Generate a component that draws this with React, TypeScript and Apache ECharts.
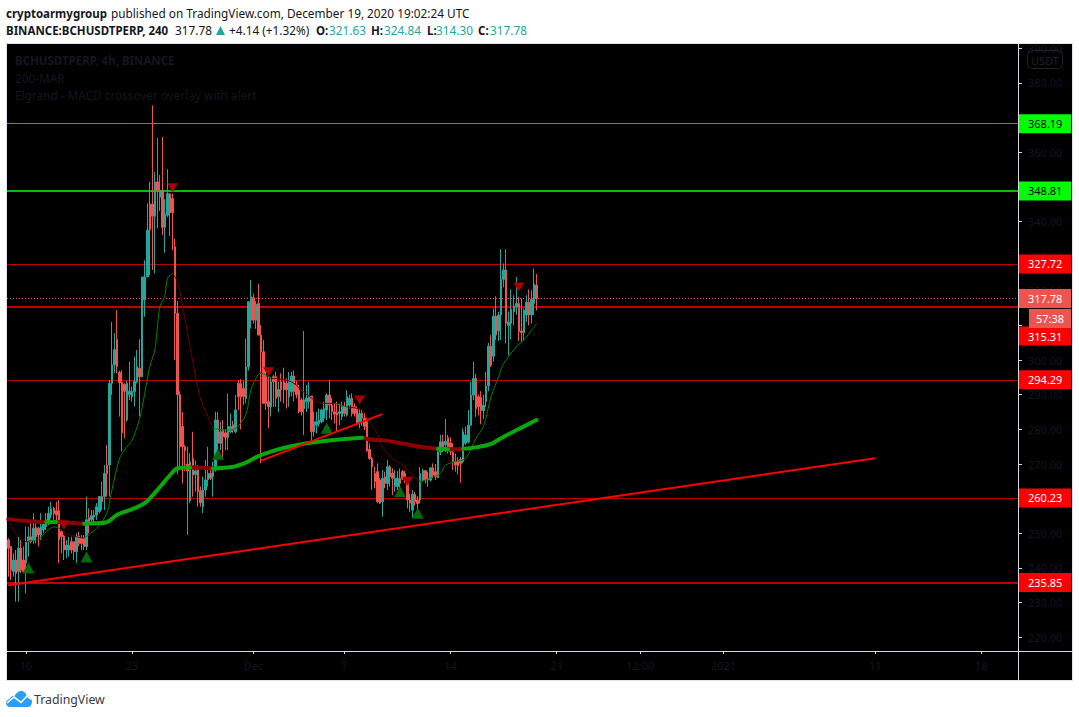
import React, { useEffect, useRef } from "react";
import * as echarts from "echarts";

// [open, close, low, high]
const candlesNovA = [
  [248.1,245.7,237.5,248.6],[246.2,239.4,236.5,246.2],[239,242.3,237.5,244.2],[242.3,238.5,230.3,245.2],
  [239,245.7,230.3,249],[245.7,239.4,238.5,248.1],[242.3,239,238.5,246.2],[241.4,247.6,232.7,251.9],
  [247.6,249,243.3,251.9],[249,247.6,247.1,252.9],[248,251.5,247,255.8],[251.7,249,247.1,253.9],
  [251.5,249.5,246.2,251.9],[249.5,251.9,248.1,255.8],[251,252.9,250,253.4],[251.9,253.9,251,255.8],
  [252.9,255.8,252.4,257.7],[255.3,257.2,254.3,259.1],[257.2,255.8,253.9,257.7],[256.5,255.3,252.9,259.1],
  [256.5,248.1,241.4,259.6],[250.5,249,244.2,251],[249.2,245.2,242.3,249.5],[245.2,246.6,242.8,248.1],
  [245.2,246.6,243.3,249],[247.6,245.2,244.2,249],[247.6,244.7,242.3,247.6],[244.7,249.2,241.4,250],
  [249.2,247.1,246.2,250.5],[248.6,247.1,245.2,249.5],[248.6,246.2,245.2,249.5],[246.2,253.9,245.2,260.6],
  [254.5,253.4,250,257.2],[253.9,255.1,252.9,256.7],[254.8,255.3,252.4,256.7],[255.3,257.7,253.9,258.7],
  [256.3,260.6,255.8,260.6],[260.6,259.1,256.7,264.9],[260.6,267.3,256.7,269.7],[269.7,267.3,260.6,275.5],
  [269.7,293.3,260.6,294.2],[293.3,298.6,289.9,311],[298.6,303,296.2,307.8],[306,298.1,296.2,314.4],
  [296.4,293.5,283.7,296.9],[293.5,279,273.6,297.1],[293,291,277.4,293.3],[282.7,293.3,282.2,294],
  [290,291,288.5,299.5],[289.4,290.9,288,292.3],[290.9,293.8,286.6,301],[293.8,298.1,293.3,302.9],
];
const candlesNovB = [
  [297.6,295.2,283.7,306],[295.2,324,295,324],[317.3,324,312.5,328.8],[324,337.5,325,345.2],
  [345,337.7,324.5,351.4],[345,341.5,326,373.5],[341.5,351.4,325,354.3],[351.4,349,338,364.1],
  [347,349,343,353.4],[349,338.3,336,364.4],[338.3,342.1,331,346.4],[341.8,348,341.3,355.1],
  [348,342.5,335.8,348],[346.6,342.5,331.7,348],[332.7,313.5,300,335],[313.5,290,267,317],
  [290,275,269,291],[280.8,275,264.4,285],[275,273.8,268,275.5],[270,268,249.5,275],
  [259.4,270.7,258.7,273.1],[271.6,266.8,260.6,279.3],[267,268,262,271],[268.3,262,257.7,269.7],
  [262.3,258.8,257.7,263.5],[257.7,262.5,255.8,266.4],[262.5,265.4,260.6,271.2],[265.4,267.3,263.5,275],
  [267.3,265.9,265.4,268.8],[266.4,268.8,260.6,270.7],[268.3,282.7,267.8,285.1],[282.7,276,274,285],
  [276,279.3,274,282.2],[279.9,277.9,271.5,282.7],[279,277.7,274,280],[277.7,280.8,274,290.4],
  [279.3,280.8,278.9,284.6],[281.3,279.8,279,282.5],[279.3,285.6,278.9,289.9],[293.3,289.4,285.6,294.2],
  [293.3,289.4,280,294.5],[291.8,289.4,287,294],[288.9,298,287.5,306.2],[298,316.8,297,317],
  [311.5,318.3,309.1,323.1],[318,311.5,310.6,319.2],[311.5,316.1,309,317],[316.3,307.2,307.2,322],
  [307.2,302.4,270.2,310.1],[302.4,287.5,287.5,305.8],[295.2,287.5,285.6,298],[288,286.5,280.3,295.2],
];
const candlesDecA = [
  [286.5,293.7,283.7,295.2],[295.2,293.7,286.5,295.7],[295.2,289,286.5,296.6],[289.4,291.5,285,293.7],
  [293.7,291.5,288,296.2],[293.7,291.5,287.5,297.8],[293.3,291.4,286,294.7],[289.4,294.2,286.5,296.6],
  [290.9,295.4,289.5,296.6],[295.4,290.9,288,297],[292.8,290,289,294],[291.3,285.1,284.6,292.8],
  [288.5,285.1,284,289],[286,288.5,278.4,308.4],[288,289,285,292.8],[288,289.6,286,293.7],
  [289.6,279.3,276.9,289.6],[279.3,282.2,277.9,285.1],[281.3,282.2,278.8,285],[281.7,282.7,280.8,286],
  [282.2,285.6,281.7,286],[283.2,286,282.2,288],[285.6,289.9,282.7,290.4],[289.9,287,283.2,294.2],
  [287,285.1,282.7,289],[285.1,284.4,281.7,287.5],[284.8,284.1,279.3,288],[284.6,285.1,281.2,287.5],
  [283.7,286.6,282.7,288],[286.6,284.6,283.7,288],[284.1,289.4,283.7,291.3],[287,288.9,286,290],
  [289,284.6,283.7,290.4],[286.6,284.6,283.7,287.5],[286,281.7,281.2,286.6],[282,284.6,280.3,286],
  [284.6,283.2,281,285.6],[283.2,280.8,279.8,285],[282.2,273.8,273.5,283.5],[274.2,271.6,271.2,276],
  [271.6,269.2,262.5,272],[267.3,264.9,263,269.2],[267.8,259.1,258.7,270.2],[265.4,258.7,258.5,266],
  [259.1,265.9,254.8,268.3],[266.3,264.4,263,267.8],[264.4,269.2,262.5,271.2],[269.2,266.3,263.5,269.7],
  [267.3,265.9,261,268.8],[263.5,265.9,262,268.3],[263.5,265.9,262.5,268],[265.9,264.4,263,268.7],
  [267.8,265.9,265.4,268.3],[267.3,265.8,264.5,268],
];
const candlesDecB = [
  [265.4,259.6,257.2,266],[259.6,258.7,256.2,261.5],[256.7,261.3,254.5,262.5],[261.3,259.1,258,262],
  [259.6,258.6,257,260.8],[259.6,267.3,258.6,269.2],[265.4,268.1,264.9,268.7],[268.1,265.4,264.4,268.3],
  [265.9,265.4,263.5,267.8],[265.4,268.9,264.9,269],[268.9,266.8,265.9,270.2],[267.8,266.3,265.4,270],
  [266.1,273.5,265.9,274],[273.5,276.4,272.6,278.4],[276.4,275,273.5,278.4],[275.6,276.6,273.5,283],
  [277.6,275,273,278.4],[276.1,273.5,272.6,277.7],[273.5,270.7,268.3,276],[270.7,269.7,267.8,273],
  [271,269.5,267,272],[271.3,270.2,264.6,272],[270.7,279.3,270.2,280.3],[276,278.4,275.5,280.8],
  [276.4,281.2,275.9,285.6],[281.2,289.9,281,293.8],[289.9,294.7,288.5,299.5],[294.7,286,283.6,296],
  [289.4,286.5,284,290],[289.2,285.4,281.5,291],[285.4,287,283,290],[288,292.5,286.5,296.6],
  [292.6,304,291,305],[304,298.5,298,307.2],[301.1,312.7,299.5,314.9],[312.7,307.2,305.8,318.4],
  [308.4,313,305.5,313.9],[313,323.3,305.8,332],[323.3,326,321,327.9],[326,310.6,304.8,332],
  [310,311,301.4,314],[310.6,314.6,306,320.4],[313.9,315.6,310,318.7],[315.4,316.3,313,324],
  [316.3,308.2,305.5,318.3],[308.4,307.9,305.3,317.8],[307.9,314.4,305.8,314.9],[313,316.7,311,318.7],
  [316.7,313,310,320.4],[313,317.5,310.5,320.2],[316.3,321.9,313,326.4],[321.63,317.78,314.3,324.84],
];

// [bar index, price] readings of the two moving averages, by colour run
const fastRedRuns = [
  [[0,254.3],[2,251],[5,248.6],[7,247.6],[9,247.9]],
  [[20,251.5],[23,250],[27,249],[30,248.6]],
  [[65,325],[67,322.6],[69,315.4],[72,303.4],[74,295.7],[76,289],[79,283.7],[81,280.3]],
  [[104,294.7],[109,294.4],[113,293.3],[116,291.3],[120,289],[124,287.5],[129,287.5]],
  [[134,286.5],[140,285.6],[142,283.2],[146,278.8],[148,275],[152,271.6],[156,269.7],[160,266.8],[163,264.9]],
];
const fastGreenRuns = [
  [[9,247.9],[12,248.3],[15,250.5],[18,251.9],[20,251.5]],
  [[30,248.6],[35,251.5],[39,255.8],[41,262.5],[44,271.6],[46,274],[49,276.9],[52,283.2],[54,290.4],[56,298.1],[58,302.9],[59,309.6],[60,315.4],[62,318.8],[63,323.6],[65,325]],
  [[81,280.3],[86,279.8],[90,280.3],[94,284.2],[96,291.4],[99,296],[100,296.2],[104,294.7]],
  [[129,287.5],[134,286.5]],
  [[163,264.9],[167,265.9],[171,267.3],[173,269.7],[177,270.7],[181,271.6],[185,277.4],[188,280.8],[191,289.4],[194,295.2],[196,299],[201,303.8],[204,305.8],[207,308.6],[209,310.4]],
];
const slowRedRuns = [
  [[0,254.1],[6,253.6],[15,253.2]],
  [[19,253.3],[30,252.8]],
  [[72,269],[75,269],[81,268.7]],
  [[140,277.6],[144,277],[148,276.9],[156,275.9],[163,275],[170,274.4]],
  [[174,274.3],[178,274.3],[180,274.4]],
];
const slowGreenRuns = [
  [[15,253.2],[19,253.3]],
  [[30,252.8],[34,252.9],[39,253.2],[43,255.3],[48,256.7],[54,258.7],[59,262.5],[64,266.8],[67,268.8],[72,269]],
  [[81,268.7],[89,269.2],[94,270.4],[99,272.3],[104,273.6],[111,275],[120,276.2],[131,277.1],[140,277.6]],
  [[170,274.4],[174,274.3]],
  [[180,274.4],[185,274.8],[191,275.8],[196,277.9],[202,280.1],[209,282.7]],
];
const trendLines = [
  [[0,235],[343,271.7]],
  [[100,271],[148,284.4]],
];
const upSignals = [[8,240],[31,243.2],[83,272.8],[126,280.3],[155,262],[162,255.8]];
const downSignals = [[22,252.4],[65,349.7],[103,296.6],[139,288.5],[158,265],[202,321.1]];

const lastPrice = 317.78;
const priceTicks = [220,230,240,250,260,270,280,290,300,310,320,330,340,350,360,370,380,390];
const dateTicks: Record<string, string> = {
  "2020-11-16 00:00": "16", "2020-11-23 00:00": "23", "2020-12-01 00:00": "Dec",
  "2020-12-07 00:00": "7", "2020-12-14 00:00": "14", "2020-12-21 00:00": "21",
  "2020-12-26 12:00": "12:00", "2021-01-01 00:00": "2021", "2021-01-11 00:00": "11", "2021-01-18 00:00": "18",
};
const BAR_COUNT = 400;

const pad = (n: number) => String(n).padStart(2, "0");
const categories: string[] = [];
for (let i = 0; i < BAR_COUNT; i++) {
  const d = new Date(Date.UTC(2020, 10, 14, 20) + i * 4 * 3600000);
  categories.push(`${d.getUTCFullYear()}-${pad(d.getUTCMonth() + 1)}-${pad(d.getUTCDate())} ${pad(d.getUTCHours())}:00`);
}
const candles = [...candlesNovA, ...candlesNovB, ...candlesDecA, ...candlesDecB];

const UI_FONT = '"Noto Sans", sans-serif';
const TEAL = "#26a69a";
const CANDLE_RED = "#ef5350";
const DIM = "#131722";

echarts.graphic.registerShape(
  "tvCloud",
  echarts.graphic.extendPath(
    "M4 16 C1.5 16 0 14 0 12 C0 10 1.5 8.5 3.5 8 C4.5 5.5 6.5 4.5 8.5 5 C10 2 12.5 0 15 0 C18 0 20 2 20.5 4.5 C23 5 26 7.5 26 11 C26 14 24 16 22 16 Z",
    {}
  )
);

function txt(text: string, x: number, y: number, fill: string, font: string, extra: any = {}, z = 50) {
  return { type: "text", z, silent: true, style: { text, x, y, fill, font, textVerticalAlign: "middle", ...extra } };
}

function runSeries(runs: number[][][], color: string, width: number, z: number) {
  return runs.map((run) => ({
    type: "line", data: run, showSymbol: false, smooth: 0.3, z, silent: true,
    lineStyle: { color, width, cap: "round" },
  }));
}

function levelLine(value: number, tagColor: string, lineColor: string, width: number, textColor: string, offsetY = 0, type: any = "solid") {
  return {
    yAxis: value,
    lineStyle: { color: lineColor, width, type, opacity: 1 },
    label: {
      show: true, position: "end", distance: 0, offset: [0, offsetY],
      formatter: value.toFixed(2), color: textColor, backgroundColor: tagColor,
      fontFamily: UI_FONT, fontSize: 11, width: 43, height: 19, lineHeight: 19,
      padding: [0, 0, 0, 10], align: "left", verticalAlign: "middle",
    },
  };
}

export default function App() {
  const ref = useRef<HTMLDivElement>(null);
  useEffect(() => {
    const chart = echarts.init(ref.current!, null, { renderer: "svg" });
    const h = `11.8px ${UI_FONT}`;
    const hb = `bold 11.5px ${UI_FONT}`;
    chart.setOption({
      animation: false,
      backgroundColor: "#ffffff",
      grid: { left: 7, right: 61, top: 44, bottom: 66, containLabel: false },
      xAxis: {
        type: "category", data: categories, boundaryGap: true,
        axisLine: { show: false },
        axisTick: {
          show: true, alignWithLabel: true, length: 3, lineStyle: { color: "#d8dbe3" },
          interval: (_: number, v: string) => v in dateTicks,
        },
        axisLabel: {
          color: DIM, fontFamily: UI_FONT, fontSize: 11, margin: 9, hideOverlap: false,
          interval: (_: number, v: string) => v in dateTicks,
          formatter: (v: string) => dateTicks[v] ?? "",
        },
        splitLine: { show: false },
      },
      yAxis: {
        type: "value", position: "right", min: 216.05, max: 391.2, scale: true,
        axisLine: { show: false },
        axisTick: { show: true, length: 4, lineStyle: { color: "#d8dbe3" }, customValues: priceTicks },
        axisLabel: {
          color: DIM, fontFamily: UI_FONT, fontSize: 11, margin: 10,
          customValues: priceTicks, formatter: (v: number) => v.toFixed(2),
        },
        splitLine: { show: false },
      },
      series: [
        {
          type: "line", data: [], z: 1, silent: true,
          markLine: {
            silent: true, symbol: "none", animation: false, z: 1,
            data: [
              levelLine(368.19, "#00ff00", "#00c800", 1, "#000000"),
              levelLine(348.81, "#00ff00", "#00ff00", 1.5, "#000000"),
              levelLine(327.72, "#ff0000", "#c00000", 1, "#ffffff"),
              levelLine(315.31, "#ff0000", "#ff0000", 1.5, "#ffffff", 29),
              levelLine(294.29, "#ff0000", "#c00000", 1, "#ffffff"),
              levelLine(260.23, "#ff0000", "#c00000", 1, "#ffffff"),
              levelLine(235.85, "#ff0000", "#ff0000", 1.5, "#ffffff"),
              levelLine(lastPrice, CANDLE_RED, CANDLE_RED, 1, "#ffffff", 0, [1, 2]),
            ],
          },
        },
        {
          type: "candlestick", data: candles, barWidth: 2, z: 2, silent: true,
          itemStyle: { color: TEAL, color0: CANDLE_RED, borderColor: TEAL, borderColor0: CANDLE_RED, borderWidth: 1 },
        },
        ...runSeries(fastRedRuns, "#6e0000", 1, 3),
        ...runSeries(fastGreenRuns, "#008000", 1, 3),
        ...runSeries(slowRedRuns, "#8c0000", 4, 4),
        ...runSeries(slowGreenRuns, "#0aa80a", 4, 4),
        ...trendLines.map((t) => ({
          type: "line", data: t, showSymbol: false, z: 5, silent: true,
          lineStyle: { color: "#ff0000", width: 2 },
        })),
        {
          type: "scatter", data: upSignals, symbol: "triangle", symbolSize: [12, 11], z: 6, silent: true,
          itemStyle: { color: "#056a0c", opacity: 1 },
        },
        {
          type: "scatter", data: downSignals, symbol: "triangle", symbolRotate: 180, symbolSize: [11, 9], z: 6, silent: true,
          itemStyle: { color: "#a80000", opacity: 1 },
        },
      ],
      graphic: [
        { type: "rect", z: -1, silent: true, shape: { x: 6.5, y: 43.5, width: 1066, height: 637 }, style: { fill: "#000000", stroke: "#e0e3eb", lineWidth: 1 } },
        { type: "line", z: 40, silent: true, shape: { x1: 1018.5, y1: 44, x2: 1018.5, y2: 680 }, style: { stroke: "#d8dbe3", lineWidth: 1 } },
        { type: "line", z: 40, silent: true, shape: { x1: 7, y1: 651.5, x2: 1072, y2: 651.5 }, style: { stroke: "#d8dbe3", lineWidth: 1 } },

        txt("cryptoarmygroup", 6, 13, "#131722", hb),
        txt("published on TradingView.com, December 19, 2020 19:02:24 UTC", 111, 13, "#131722", h),
        txt("BINANCE:BCHUSDTPERP, 240", 6, 30, "#131722", hb),
        txt("317.78", 175, 30, "#131722", h),
        { type: "polygon", z: 50, silent: true, shape: { points: [[216, 35], [225, 35], [220.5, 26]] }, style: { fill: TEAL } },
        txt("+4.14 (+1.32%)", 229, 30, "#131722", h),
        txt("O:", 316, 30, "#131722", hb),
        txt("321.63", 329, 30, TEAL, h),
        txt("H:", 371, 30, "#131722", hb),
        txt("324.84", 384, 30, TEAL, h),
        txt("L:", 427, 30, "#131722", hb),
        txt("314.30", 436, 30, TEAL, h),
        txt("C:", 478, 30, "#131722", hb),
        txt("317.78", 490, 30, TEAL, h),

        txt("BCHUSDTPERP, 4h, BINANCE", 15, 60, DIM, hb),
        txt("200-MAR", 15, 78, DIM, h),
        txt("Elgrand - MACD crossover overlay with alert", 15, 95, DIM, h),

        { type: "rect", z: 50, silent: true, shape: { x: 1027.5, y: 50.5, width: 35, height: 18, r: 4 }, style: { fill: "none", stroke: "#1e222d", lineWidth: 1 } },
        txt("USDT", 1045, 60, "#1e222d", `11px ${UI_FONT}`, { textAlign: "center" }),

        { type: "rect", z: 52, silent: true, shape: { x: 1029, y: 309, width: 42, height: 19 }, style: { fill: CANDLE_RED } },
        txt("57:38", 1050, 318.5, "#ffffff", `11px ${UI_FONT}`, { textAlign: "center" }, 53),

        { type: "tvCloud", z: 50, silent: true, x: 6, y: 691, style: { fill: "#2a9df4" } },
        { type: "polyline", z: 51, silent: true, shape: { points: [[7, 703], [14, 697], [21, 702.5], [27, 696], [31, 699]] }, style: { stroke: "#ffffff", lineWidth: 1.6, fill: "none" } },
        txt("TradingView", 34, 699, "#363a45", `12.3px ${UI_FONT}`),
      ],
    });
    return () => chart.dispose();
  }, []);
  return <div ref={ref} style={{ position: "fixed", left: 0, top: 0, width: 1079, height: 717 }} />;
}
